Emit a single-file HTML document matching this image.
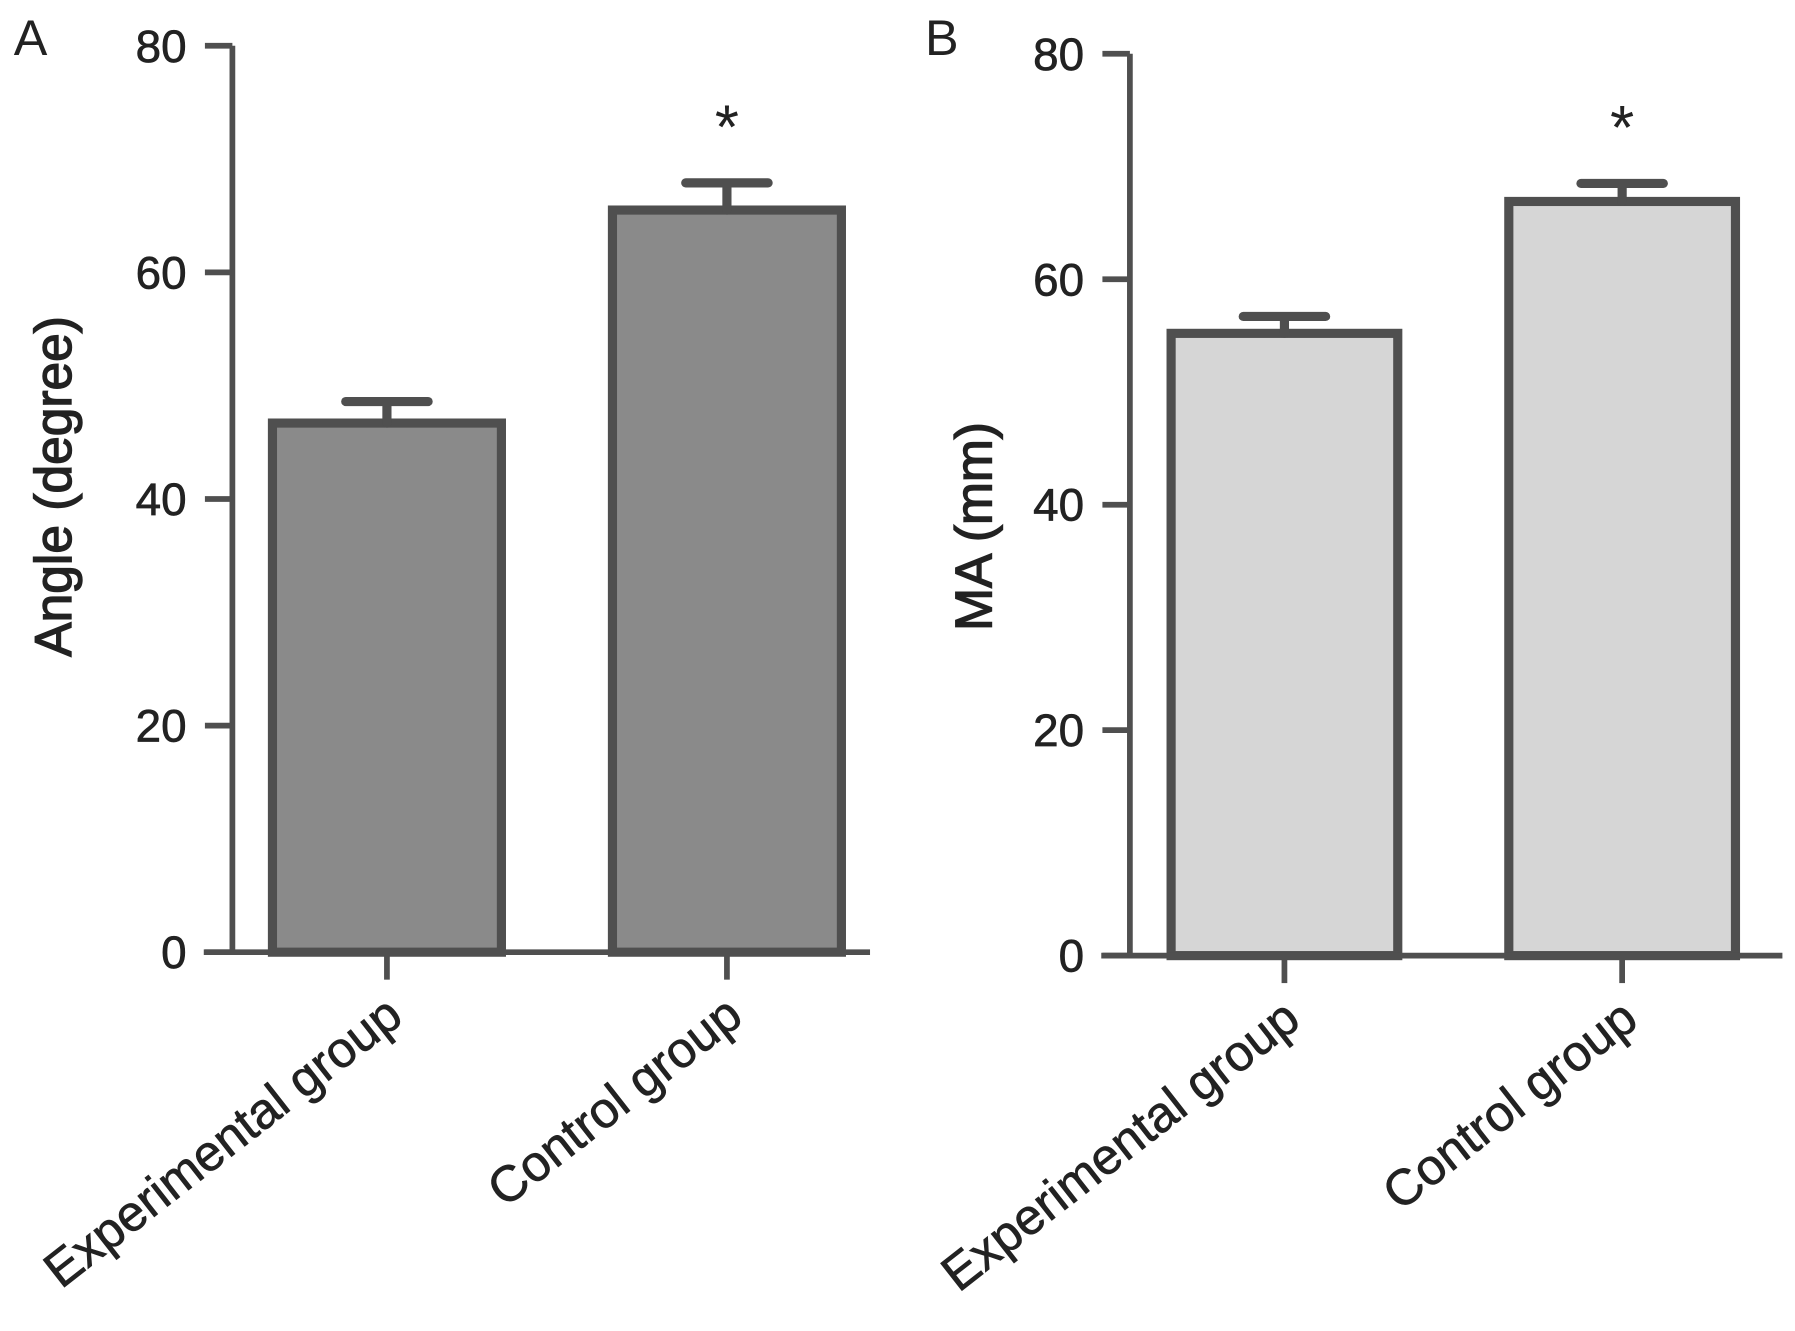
<!DOCTYPE html>
<html><head><meta charset="utf-8"><style>body{margin:0;background:#fff}svg{display:block}text{font-family:"Liberation Sans",sans-serif;fill:#222}</style></head>
<body>
<svg id="c" width="1795" height="1331" viewBox="0 0 1568 1163" preserveAspectRatio="none"></svg>
<script>
const categories=["Experimental group","Control group"];
const angleValues=[46.7,65.5];
const angleErrors=[1.9,2.4];
const maValues=[55.2,66.9];
const maErrors=[1.5,1.6];
const yTicks=[0,20,40,60,80];
const panels=[
 {label:"A",title:"Angle (degree)",vals:angleValues,errs:angleErrors,ax:203,y0:832,y80:40,xl:178,xr:760,centers:[338,635],bw:200,fill:"#8a8a8a",lx:12,ly:48,tx:62,toff:-26},
 {label:"B",title:"MA (mm)",vals:maValues,errs:maErrors,ax:987,y0:835,y80:47,xl:962,xr:1557,centers:[1122,1417],bw:198,fill:"#d6d6d6",lx:808,ly:48,tx:866,toff:4}
];
const svg=document.getElementById('c');const NS="http://www.w3.org/2000/svg";
function mk(t,a,p){const e=document.createElementNS(NS,t);for(const k in a)e.setAttribute(k,a[k]);(p||svg).appendChild(e);return e;}
const col="#4f4f4f";
panels.forEach((P,pi)=>{
 const g=mk('g',{});
 
 
 const y=v=>P.y0+(P.y80-P.y0)*v/80;
 P.vals.forEach((v,i)=>{
  const cx=P.centers[i];
  const r=mk('rect',{x:cx-P.bw/2,y:y(v),width:P.bw,height:P.y0-y(v),fill:P.fill,stroke:col,'stroke-width':8},g);
  
  
  const e=mk('path',{d:`M${cx} ${y(v)} V${y(v+P.errs[i])} M${cx-36} ${y(v+P.errs[i])} H${cx+36}`,stroke:col,'stroke-width':8,'stroke-linecap':'round',fill:'none'},g);
  
  
  mk('path',{d:`M${cx} ${P.y0} V${P.y0+24}`,stroke:col,'stroke-width':5},g);
  const t=mk('text',{x:cx+16,y:P.y0+60,'text-anchor':'end','font-size':44,stroke:'#222','stroke-width':0.6,transform:`rotate(-38 ${cx+16} ${P.y0+60})`},g);
  t.textContent=categories[i];
  
  
 });
 const s=mk('text',{x:P.centers[1],y:y(P.vals[1]+P.errs[1])-30,'text-anchor':'middle','font-size':54,fill:'#555'},g);
 s.textContent="*";
 
 
 mk('path',{d:`M${P.ax} ${P.y80} V${P.y0} M${P.xl} ${P.y0} H${P.xr}`,stroke:col,'stroke-width':5,fill:'none'},g);
 yTicks.forEach(v=>{
  mk('path',{d:`M${P.ax-24} ${y(v)} H${P.ax}`,stroke:col,'stroke-width':5},g);
  const t=mk('text',{x:P.ax-40,y:y(v)+14,'text-anchor':'end','font-size':40,stroke:'#222','stroke-width':0.6},g);
  t.textContent=v;
  
  
 });
 const ty=(P.y0+P.y80)/2+15+P.toff;
 const yt=mk('text',{x:P.tx,y:ty,'text-anchor':'middle','font-size':45,stroke:'#222','stroke-width':1.2,transform:`rotate(-90 ${P.tx} ${ty})`},g);
 yt.textContent=P.title;
 
 
 const pl=mk('text',{x:P.lx,y:P.ly,'font-size':44},g);
 pl.textContent=P.label;
 
 
});
</script>
</body></html>
